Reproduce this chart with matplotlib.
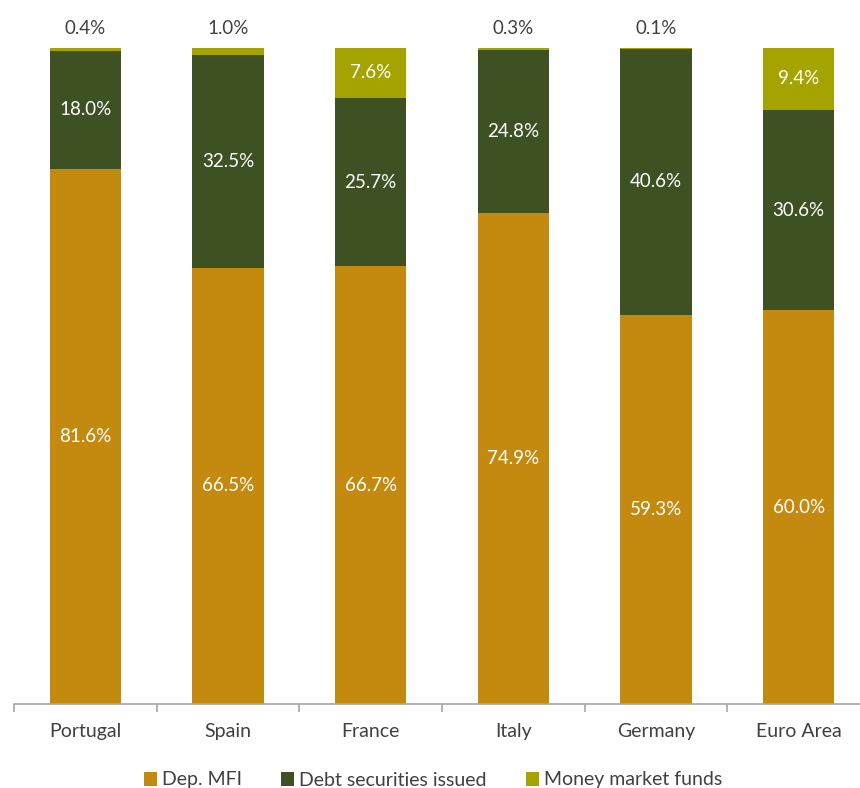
import matplotlib.pyplot as plt
import numpy as np

plt.rcParams['font.family'] = ['Lato', 'DejaVu Sans']

countries = ['Portugal', 'Spain', 'France', 'Italy', 'Germany', 'Euro Area']
dep_mfi = [81.6, 66.5, 66.7, 74.9, 59.3, 60.0]
debt_sec = [18.0, 32.5, 25.7, 24.8, 40.6, 30.6]
mmf = [0.4, 1.0, 7.6, 0.3, 0.1, 9.4]

series = [
    ('Dep. MFI', dep_mfi, '#C48A10'),
    ('Debt securities issued', debt_sec, '#3D5123'),
    ('Money market funds', mmf, '#A5A300'),
]

fig = plt.figure(figsize=(8.6, 7.88), dpi=100)
# x axis runs a little past the right edge like the original
ax = fig.add_axes([14 / 860, 84 / 788, 856 / 860, 656 / 788])

x = np.arange(len(countries))
bottom = np.zeros(len(countries))
handles = []
for name, vals, col in series:
    vals = np.array(vals)
    b = ax.bar(x, vals, bottom=bottom, width=0.5, color=col, label=name)
    handles.append(b)
    for i, v in enumerate(vals):
        if v >= 5:
            ax.text(x[i], bottom[i] + v / 2, f'{v:.1f}%', ha='center', va='center',
                    color='white', fontsize=13.5)
        else:
            ax.annotate(f'{v:.1f}%', (x[i], bottom[i] + v), xytext=(0, 8),
                        textcoords='offset points', ha='center', va='bottom',
                        color='#404040', fontsize=13.5)
    bottom += vals

ax.set_ylim(0, 100)
ax.set_xlim(-0.5, 5.5)
for s in ['top', 'right', 'left']:
    ax.spines[s].set_visible(False)
ax.spines['bottom'].set_color('#A6A6A6')
ax.spines['bottom'].set_linewidth(1.2)
ax.set_yticks([])
ax.set_xticks(x)
ax.set_xticklabels(countries, fontsize=14, color='#404040')
ax.tick_params(axis='x', which='major', length=0, pad=14)
ax.set_xticks(np.arange(-0.5, 6, 1), minor=True)
ax.tick_params(axis='x', which='minor', length=6, width=1.2, color='#A6A6A6')

fig.legend(handles=handles, loc='center', bbox_to_anchor=(433 / 860, 8 / 788), ncol=3,
           frameon=False, fontsize=14, handlelength=0.7, handleheight=0.7,
           handletextpad=0.25, columnspacing=2.0, labelcolor='#404040')

fig.savefig('out.png', dpi=100)
